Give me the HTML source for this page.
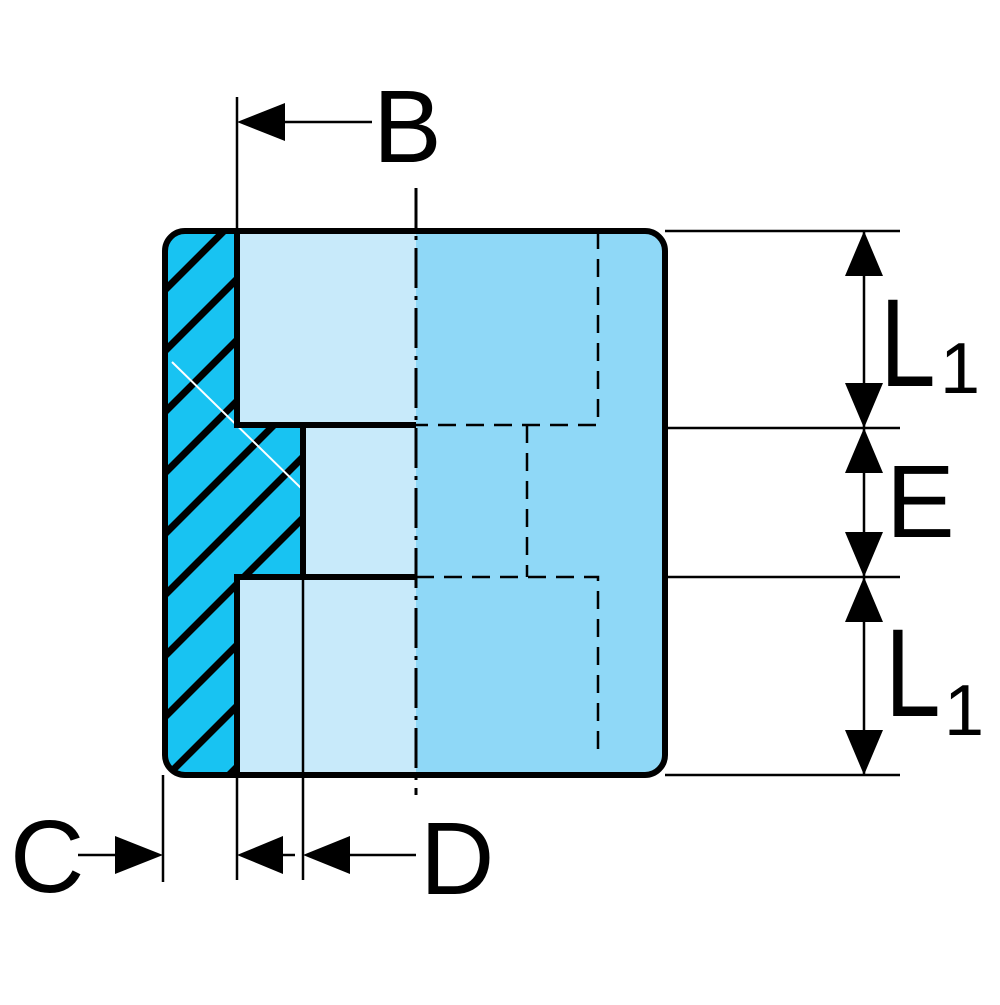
<!DOCTYPE html>
<html><head><style>html,body{margin:0;padding:0;background:#fff}</style></head>
<body>
<svg width="1000" height="1000" viewBox="0 0 1000 1000" xmlns="http://www.w3.org/2000/svg" font-family="Liberation Sans, Arial, sans-serif">
<defs>
<clipPath id="hc">
<path d="M185,231 H237 V425 H303 V577 H237 V775 H185 Q165,775 165,755 V251 Q165,231 185,231 Z"/>
</clipPath>
</defs>
<rect x="165" y="231" width="500" height="544" rx="20" fill="#8fd8f7"/>
<path d="M237,231 H416 V775 H237 V577 H303 V425 H237 Z" fill="#c8eafa"/>
<path d="M185,231 H237 V425 H303 V577 H237 V775 H185 Q165,775 165,755 V251 Q165,231 185,231 Z" fill="#18c3f2"/>
<g clip-path="url(#hc)" stroke="#000" stroke-width="7">
<line x1="165" y1="229" x2="400" y2="-6"/>
<line x1="165" y1="290" x2="400" y2="55"/>
<line x1="165" y1="351" x2="400" y2="116"/>
<line x1="165" y1="412" x2="400" y2="177"/>
<line x1="165" y1="473" x2="400" y2="238"/>
<line x1="165" y1="534" x2="400" y2="299"/>
<line x1="165" y1="595" x2="400" y2="360"/>
<line x1="165" y1="656" x2="400" y2="421"/>
<line x1="165" y1="717" x2="400" y2="482"/>
<line x1="165" y1="778" x2="400" y2="543"/>
<line x1="165" y1="839" x2="400" y2="604"/>
</g>
<line x1="172" y1="362" x2="303" y2="490" stroke="#fff" stroke-width="2" clip-path="url(#hc)"/>
<path d="M237,231 V425 H416 M303,425 V577 M237,775 V577 H416" fill="none" stroke="#000" stroke-width="6"/>
<line x1="303" y1="577" x2="303" y2="775" stroke="#000" stroke-width="2.5"/>
<g stroke="#000" stroke-width="2.5" stroke-dasharray="18,10" fill="none">
<path d="M598,231 V425 H416"/>
<path d="M527,425 V577"/>
<path d="M416,577 H598 V755"/>
</g>
<rect x="165" y="231" width="500" height="544" rx="20" fill="none" stroke="#000" stroke-width="6"/>
<line x1="416" y1="188" x2="416" y2="795" stroke="#000" stroke-width="3" stroke-dasharray="40,8,4,8"/>
<line x1="237" y1="97" x2="237" y2="231" stroke="#000" stroke-width="2.5"/>
<line x1="280" y1="122" x2="372" y2="122" stroke="#000" stroke-width="2.5"/>
<polygon points="237,122 285,103 285,141" fill="#000"/>
<text x="373" y="162" font-size="103">B</text>
<g stroke="#000" stroke-width="2.5">
<line x1="665" y1="231" x2="900" y2="231"/>
<line x1="665" y1="428" x2="900" y2="428"/>
<line x1="665" y1="577" x2="900" y2="577"/>
<line x1="665" y1="775" x2="900" y2="775"/>
<line x1="864" y1="231" x2="864" y2="775"/>
</g>
<g fill="#000">
<polygon points="864,231 845,276 883,276"/>
<polygon points="864,428 845,383 883,383"/>
<polygon points="864,428 845,473 883,473"/>
<polygon points="864,577 845,532 883,532"/>
<polygon points="864,577 845,622 883,622"/>
<polygon points="864,775 845,730 883,730"/>
</g>
<text x="880" y="386" font-size="125" transform="translate(880,0) scale(0.8,1) translate(-880,0)">L</text>
<text x="940" y="393" font-size="72">1</text>
<text x="886" y="537" font-size="103">E</text>
<text x="885" y="716" font-size="125" transform="translate(885,0) scale(0.8,1) translate(-885,0)">L</text>
<text x="944" y="735" font-size="72">1</text>
<line x1="163" y1="775" x2="163" y2="882" stroke="#000" stroke-width="2.5"/>
<line x1="78" y1="855" x2="120" y2="855" stroke="#000" stroke-width="2.5"/>
<polygon points="163,855 115,836 115,874" fill="#000"/>
<text x="10" y="892" font-size="103">C</text>
<line x1="237" y1="775" x2="237" y2="880" stroke="#000" stroke-width="2.5"/>
<line x1="303" y1="775" x2="303" y2="880" stroke="#000" stroke-width="2.5"/>
<line x1="280" y1="855" x2="295" y2="855" stroke="#000" stroke-width="2.5"/>
<polygon points="237,855 283,836 283,874" fill="#000"/>
<line x1="345" y1="855" x2="416" y2="855" stroke="#000" stroke-width="2.5"/>
<polygon points="303,855 350,836 350,874" fill="#000"/>
<text x="420" y="894" font-size="103">D</text>
</svg>
</body></html>
